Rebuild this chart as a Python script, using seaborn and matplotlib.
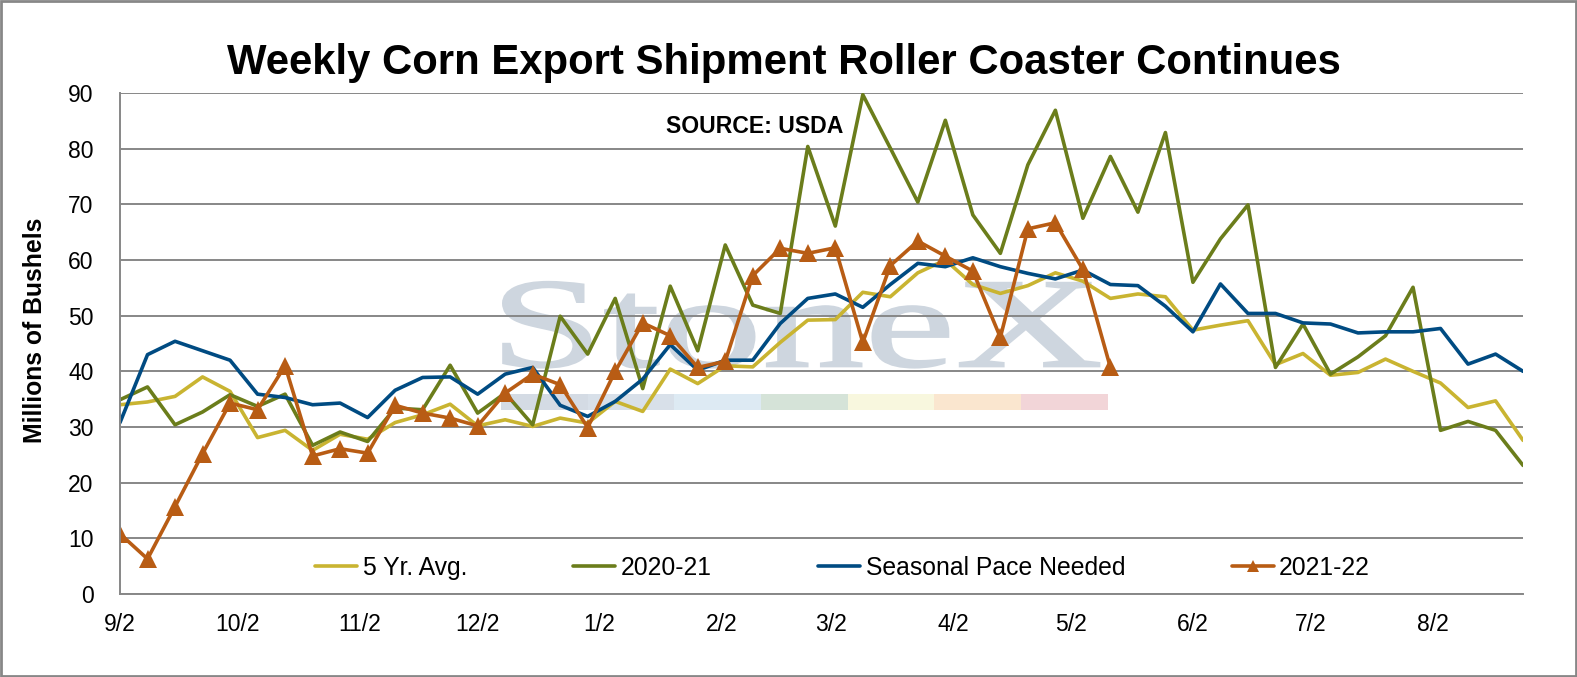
import numpy as np
import pandas as pd
import matplotlib
matplotlib.use("Agg")
import matplotlib.pyplot as plt
import seaborn as sns
from matplotlib.textpath import TextPath
from matplotlib.patches import PathPatch, Rectangle
from matplotlib.font_manager import FontProperties
from matplotlib.transforms import Affine2D

# ---------------- data ----------------
title = "Weekly Corn Export Shipment Roller Coaster Continues"
source_note = "SOURCE: USDA"
y_label = "Millions of Bushels"
series_names = ["5 Yr. Avg.", "2020-21", "Seasonal Pace Needed", "2021-22"]

start_date = "2021-09-02"
n_weeks = 52
tick_labels = ["9/2", "10/2", "11/2", "12/2", "1/2", "2/2", "3/2", "4/2",
               "5/2", "6/2", "7/2", "8/2"]

five_yr_avg = [34.0, 34.5, 35.5, 39.0, 36.4, 28.1, 29.4, 25.8, 28.7, 27.8,
               30.8, 32.2, 34.1, 30.2, 31.3, 30.1, 31.6, 30.7, 34.6, 32.8,
               40.4, 37.8, 41.0, 40.8, 45.2, 49.2, 49.3, 54.2, 53.4, 57.7,
               60.0, 55.6, 54.0, 55.4, 57.7, 56.2, 53.1, 53.9, 53.4, 47.4,
               48.3, 49.1, 41.2, 43.2, 39.3, 39.8, 42.2, 40.0, 37.9, 33.5,
               34.7, 27.6]
y2020_21 = [34.9, 37.2, 30.4, 32.7, 35.8, 33.7, 35.9, 26.7, 29.1, 27.4,
            33.4, 33.1, 41.1, 32.5, 36.1, 30.4, 49.9, 43.1, 53.1, 36.9,
            55.3, 43.7, 62.7, 51.9, 50.4, 80.4, 66.1, 89.7, 80.1, 70.4,
            85.1, 68.1, 61.2, 77.1, 86.9, 67.5, 78.6, 68.6, 82.9, 56.0,
            63.8, 69.9, 40.7, 48.5, 39.5, 42.6, 46.4, 55.1, 29.4, 31.0,
            29.4, 23.1]
seasonal_pace = [30.8, 43.0, 45.4, 43.7, 42.0, 35.9, 35.3, 34.0, 34.3, 31.7,
                 36.6, 38.9, 39.0, 35.9, 39.5, 40.7, 33.9, 31.9, 34.6, 38.6,
                 44.8, 40.2, 42.0, 42.0, 48.6, 53.1, 53.9, 51.5, 55.6, 59.4,
                 58.8, 60.4, 58.8, 57.6, 56.6, 58.2, 55.6, 55.4, 51.7, 47.1,
                 55.7, 50.4, 50.4, 48.7, 48.5, 46.9, 47.1, 47.1, 47.7, 41.3,
                 43.1, 40.0]
y2021_22 = [10.8, 6.3, 15.7, 25.2, 34.3, 33.1, 41.0, 24.8, 26.1, 25.3,
            33.9, 32.5, 31.6, 30.2, 36.1, 39.5, 37.6, 29.9, 40.0, 48.7,
            46.4, 40.7, 41.8, 57.2, 62.1, 61.2, 62.2, 45.2, 59.0, 63.4,
            60.7, 58.0, 46.1, 65.6, 66.7, 58.3, 40.7]

# ---------------- style ----------------
C_AVG = "#C9B431"
C_2021 = "#6B7D1B"
C_PACE = "#004B82"
C_2122 = "#B85C14"
C_GRID = "#878787"

sns.set_style("white")
plt.rcParams["font.family"] = ["Liberation Sans", "DejaVu Sans"]
plt.rcParams["text.color"] = "black"

weeks = pd.date_range(start_date, periods=n_weeks, freq="7D")
tick_dates = pd.date_range("2021-09-01", periods=len(tick_labels), freq="MS") + pd.Timedelta(days=1)

fig = plt.figure(figsize=(15.77, 6.77), dpi=100)
ax = fig.add_axes([0.0761, 0.1226, 0.8897, 0.7400])

# watermark (decorative)
tp = TextPath((0, 0), "StoneX", size=100, prop=FontProperties(family="Liberation Serif"))
ext = tp.get_extents()
wx0, wx1, wy0, wy1 = 0.273, 0.698, 0.452, 0.623
wtr = (Affine2D().translate(-ext.x0, -ext.y0)
       .scale((wx1 - wx0) / ext.width, (wy1 - wy0) / ext.height)
       .translate(wx0, wy0) + ax.transAxes)
ax.add_patch(PathPatch(tp, transform=wtr, facecolor="#CED6DF", edgecolor="#CED6DF",
                       lw=1.5, zorder=0.2))
bar_cols = ["#D4DBE4", "#D8E0E9", "#DDEAF3", "#D5E3D8", "#F8F7DE", "#FAE6CF", "#F2D5D8"]
bx0, bx1, by0, by1 = 0.2716, 0.7040, 0.368, 0.400
segw = (bx1 - bx0) / len(bar_cols)
for k, c in enumerate(bar_cols):
    ax.add_patch(Rectangle((bx0 + k * segw, by0), segw, by1 - by0, transform=ax.transAxes,
                           facecolor=c, edgecolor="none", zorder=0.2))

lw = 2.6
common = dict(solid_joinstyle="round", solid_capstyle="round")
sns.lineplot(x=weeks, y=five_yr_avg, ax=ax, color=C_AVG, lw=lw, label=series_names[0], **common)
sns.lineplot(x=weeks, y=y2020_21, ax=ax, color=C_2021, lw=lw, label=series_names[1], **common)
sns.lineplot(x=weeks, y=seasonal_pace, ax=ax, color=C_PACE, lw=lw, label=series_names[2], **common)
sns.lineplot(x=weeks[:len(y2021_22)], y=y2021_22, ax=ax, color=C_2122, lw=lw,
             marker="^", markersize=12.5, markeredgewidth=0, label=series_names[3], **common)

ax.set_xlim(weeks[0], weeks[-1])
ax.set_ylim(0, 90)
ax.set_yticks(range(0, 91, 10))
ax.set_xticks(tick_dates)
ax.set_xticklabels(tick_labels)
ax.set_xlabel("")
ax.set_ylabel("")

ax.yaxis.grid(True, color=C_GRID, lw=1.4)
ax.xaxis.grid(False)
ax.set_axisbelow(True)
for s in ["top", "right"]:
    ax.spines[s].set_visible(False)
for s in ["left", "bottom"]:
    ax.spines[s].set_color(C_GRID)
    ax.spines[s].set_linewidth(1.4)
ax.tick_params(axis="y", direction="out", length=5, width=1.4, color=C_GRID,
               labelsize=16.5, pad=14, labelcolor="black")
ax.tick_params(axis="x", direction="out", length=5, width=1.4, color=C_GRID,
               labelsize=16.5, pad=9, labelcolor="black")

leg = ax.legend(loc="center", bbox_to_anchor=(0.515, 0.052), ncol=4, frameon=False,
                fontsize=17.8, handlelength=1.7, handletextpad=0.22, columnspacing=4.3,
                borderaxespad=0)
for t in leg.get_texts():
    t.set_color("black")
for h in leg.get_lines():
    h.set_linewidth(lw)
leg.get_lines()[3].set_markersize(8)

ax.text(0.389, 0.920, source_note, transform=ax.transAxes, ha="left", va="baseline",
        fontsize=16.6, fontweight="bold", color="black")
fig.text(0.497, 0.8907, title, ha="center", va="baseline", fontsize=30.2,
         fontweight="bold", color="black")
fig.text(0.022, 0.5126, y_label, rotation=90, ha="center", va="center",
         fontsize=17.8, fontweight="bold", color="black")

fig.add_artist(Rectangle((0.0008, 0.0015), 0.9984, 0.997, transform=fig.transFigure,
                         facecolor="none", edgecolor=C_GRID, lw=2.0))

fig.savefig("out.png", dpi=100)
